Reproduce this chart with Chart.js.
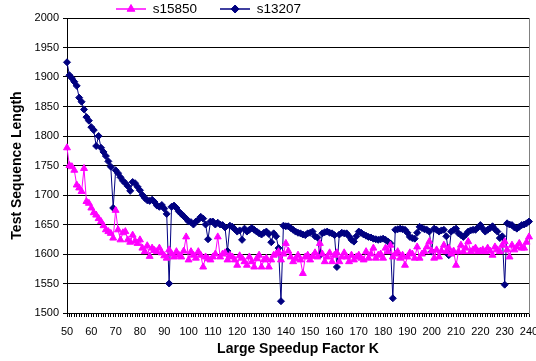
<!DOCTYPE html>
<html>
<head>
<meta charset="utf-8">
<script src="https://cdn.jsdelivr.net/npm/chart.js@4.4.1/dist/chart.umd.min.js"></script>
<style>
  html, body { margin: 0; padding: 0; background: #ffffff; }
  #wrap { width: 536px; height: 361px; position: relative; }
</style>
</head>
<body>
<div id="wrap"><canvas id="c" width="536" height="361"></canvas></div>
<script>
// ---- categories (Large Speedup Factor K) ----
const kValues = Array.from({length: 191}, (_, i) => 50 + i);
const categories = kValues.map(String);

// ---- tick labels ----
const xTickLabels = ['50','60','70','80','90','100','110','120','130','140','150','160','170','180','190','200','210','220','230','240'];
const yMin = 1500, yMax = 2000, yStep = 50;

// ---- series: s15850 ----
const s15850 = [
  1780,1750,1748,1742,1717,1712,1706,1745,1689,1686,
  1678,1670,1666,1660,1655,1648,1641,1638,1635,1627,
  1674,1641,1624,1636,1638,1624,1620,1632,1622,1618,
  1624,1610,1604,1614,1596,1610,1606,1604,1610,1602,
  1597,1593,1607,1600,1595,1604,1598,1595,1605,1629,
  1590,1604,1598,1593,1604,1598,1578,1595,1592,1590,
  1595,1600,1629,1595,1600,1602,1590,1598,1595,1590,
  1581,1597,1593,1587,1581,1595,1587,1578,1592,1598,
  1578,1590,1593,1578,1590,1598,1600,1604,1590,1600,
  1618,1605,1595,1587,1592,1598,1590,1567,1595,1598,
  1590,1596,1602,1595,1618,1600,1587,1595,1602,1587,
  1598,1602,1587,1595,1602,1595,1587,1598,1590,1595,
  1598,1593,1590,1604,1593,1600,1610,1593,1598,1600,
  1593,1610,1604,1615,1595,1600,1604,1593,1598,1581,
  1595,1602,1600,1593,1612,1593,1600,1604,1612,1621,
  1605,1593,1607,1595,1605,1615,1604,1610,1600,1605,
  1581,1604,1615,1604,1610,1621,1604,1607,1610,1604,
  1605,1607,1604,1610,1605,1598,1612,1607,1604,1615,
  1621,1607,1595,1615,1607,1612,1618,1610,1610,1620,1629
];

// ---- series: s13207 ----
const s13207 = [
  1925,1903,1898,1892,1885,1865,1858,1845,1832,1826,
  1815,1810,1783,1800,1780,1773,1766,1757,1748,1678,
  1742,1737,1730,1724,1720,1715,1707,1722,1720,1714,
  1708,1700,1695,1691,1690,1692,1688,1682,1680,1683,
  1677,1668,1550,1680,1682,1678,1672,1668,1664,1660,
  1655,1654,1650,1655,1658,1663,1660,1650,1625,1655,
  1655,1650,1653,1650,1649,1645,1605,1648,1646,1642,
  1638,1640,1624,1643,1638,1641,1644,1641,1638,1635,
  1633,1636,1638,1634,1620,1635,1630,1610,1520,1648,
  1647,1647,1644,1641,1638,1636,1635,1633,1632,1635,
  1636,1638,1630,1628,1598,1635,1637,1638,1636,1635,
  1632,1578,1633,1636,1635,1635,1630,1624,1621,1630,
  1638,1636,1633,1631,1629,1628,1626,1625,1624,1625,
  1626,1624,1621,1618,1525,1641,1642,1643,1642,1641,
  1636,1629,1627,1626,1636,1646,1644,1642,1641,1638,
  1604,1643,1641,1638,1640,1641,1630,1598,1638,1641,
  1643,1635,1632,1629,1633,1638,1640,1641,1641,1645,
  1649,1643,1638,1641,1644,1647,1642,1638,1627,1630,
  1548,1652,1650,1649,1645,1643,1646,1649,1650,1652,1655
];

const seriesNames = ['s15850', 's13207'];
const MAGENTA = '#FF00FF';
const NAVY = '#000080';
const FONT = "'Liberation Sans', Arial, Helvetica, sans-serif";

function legendSwatch(color, style, radius) {
  const c = document.createElement('canvas');
  c.width = 30; c.height = 12;
  const g = c.getContext('2d');
  g.strokeStyle = color; g.lineWidth = 1.5;
  g.beginPath(); g.moveTo(0, 6); g.lineTo(30, 6); g.stroke();
  g.fillStyle = color; g.strokeStyle = color; g.lineWidth = 1;
  Chart.helpers.drawPoint(g, {pointStyle: style, radius: radius, borderWidth: 1}, 15, 6);
  return c;
}

const swatches = [legendSwatch(MAGENTA, 'triangle', 4.5), legendSwatch(NAVY, 'rectRot', 4)];

const legendPlacer = {
  id: 'legendPlacer',
  afterLayout(chart) {
    const lg = chart.legend;
    if (lg) { lg.left = 93; lg.top = -20.75; }
  }
};

new Chart(document.getElementById('c'), {
  type: 'line',
  data: {
    labels: categories,
    datasets: [
      {
        label: seriesNames[0], data: s15850,
        borderColor: MAGENTA, backgroundColor: MAGENTA, borderWidth: 1,
        pointStyle: 'triangle', pointRadius: 4, pointBorderWidth: 1,
        pointBackgroundColor: MAGENTA, pointBorderColor: MAGENTA, tension: 0
      },
      {
        label: seriesNames[1], data: s13207,
        borderColor: NAVY, backgroundColor: NAVY, borderWidth: 1,
        pointStyle: 'rectRot', pointRadius: 3.5, pointBorderWidth: 1,
        pointBackgroundColor: NAVY, pointBorderColor: NAVY, tension: 0
      }
    ]
  },
  options: {
    responsive: false,
    animation: false,
    events: [],
    layout: { padding: { left: 9, right: 7, top: 0, bottom: 0 } },
    plugins: {
      tooltip: { enabled: false },
      legend: {
        display: true, position: 'top', align: 'start', maxHeight: 18,
        labels: {
          usePointStyle: true, pointStyleWidth: 30, padding: 23,
          color: '#000', font: { family: FONT, size: 13.5 },
          generateLabels: (chart) => chart.data.datasets.map((ds, i) => ({
            text: ds.label, pointStyle: swatches[i], fillStyle: ds.borderColor,
            strokeStyle: ds.borderColor, lineWidth: 0, hidden: false, datasetIndex: i
          }))
        }
      }
    },
    scales: {
      x: {
        type: 'category', offset: false,
        grid: { display: true, drawOnChartArea: false, drawTicks: true, tickLength: 4, color: '#000', lineWidth: 1 },
        border: { display: true, color: '#000', width: 1 },
        ticks: {
          autoSkip: false, maxRotation: 0, minRotation: 0, padding: 8,
          color: '#000', font: { family: FONT, size: 11 },
          callback: function (value) {
            const lab = this.getLabelForValue(value);
            return xTickLabels.includes(lab) ? lab : '';
          }
        },
        title: { display: true, text: 'Large Speedup Factor K', color: '#000',
                 font: { family: FONT, size: 14, weight: 'bold' }, padding: { top: 3, bottom: 3 } },
        afterFit: (scale) => { scale.paddingRight = 0; scale.paddingLeft = 0; scale.height = 48; }
      },
      y: {
        type: 'linear', min: yMin, max: yMax,
        grid: { display: true, drawOnChartArea: true, drawTicks: true, tickLength: 4, color: '#000', lineWidth: 1 },
        border: { display: true, color: '#000', width: 1 },
        ticks: { stepSize: yStep, padding: 4, color: '#000', font: { family: FONT, size: 11 },
                 callback: (v) => String(v) },
        title: { display: true, text: 'Test Sequence Length', color: '#000',
                 font: { family: FONT, size: 14, weight: 'bold' }, padding: { top: 0, bottom: 6 } },
        afterFit: (scale) => { scale.width = 58; }
      },
      y2: {
        type: 'linear', position: 'right', min: yMin, max: yMax,
        grid: { display: false, drawTicks: false },
        border: { display: true, color: '#808080', width: 1 },
        ticks: { display: false }
      }
    }
  },
  plugins: [legendPlacer]
});
</script>
</body>
</html>
